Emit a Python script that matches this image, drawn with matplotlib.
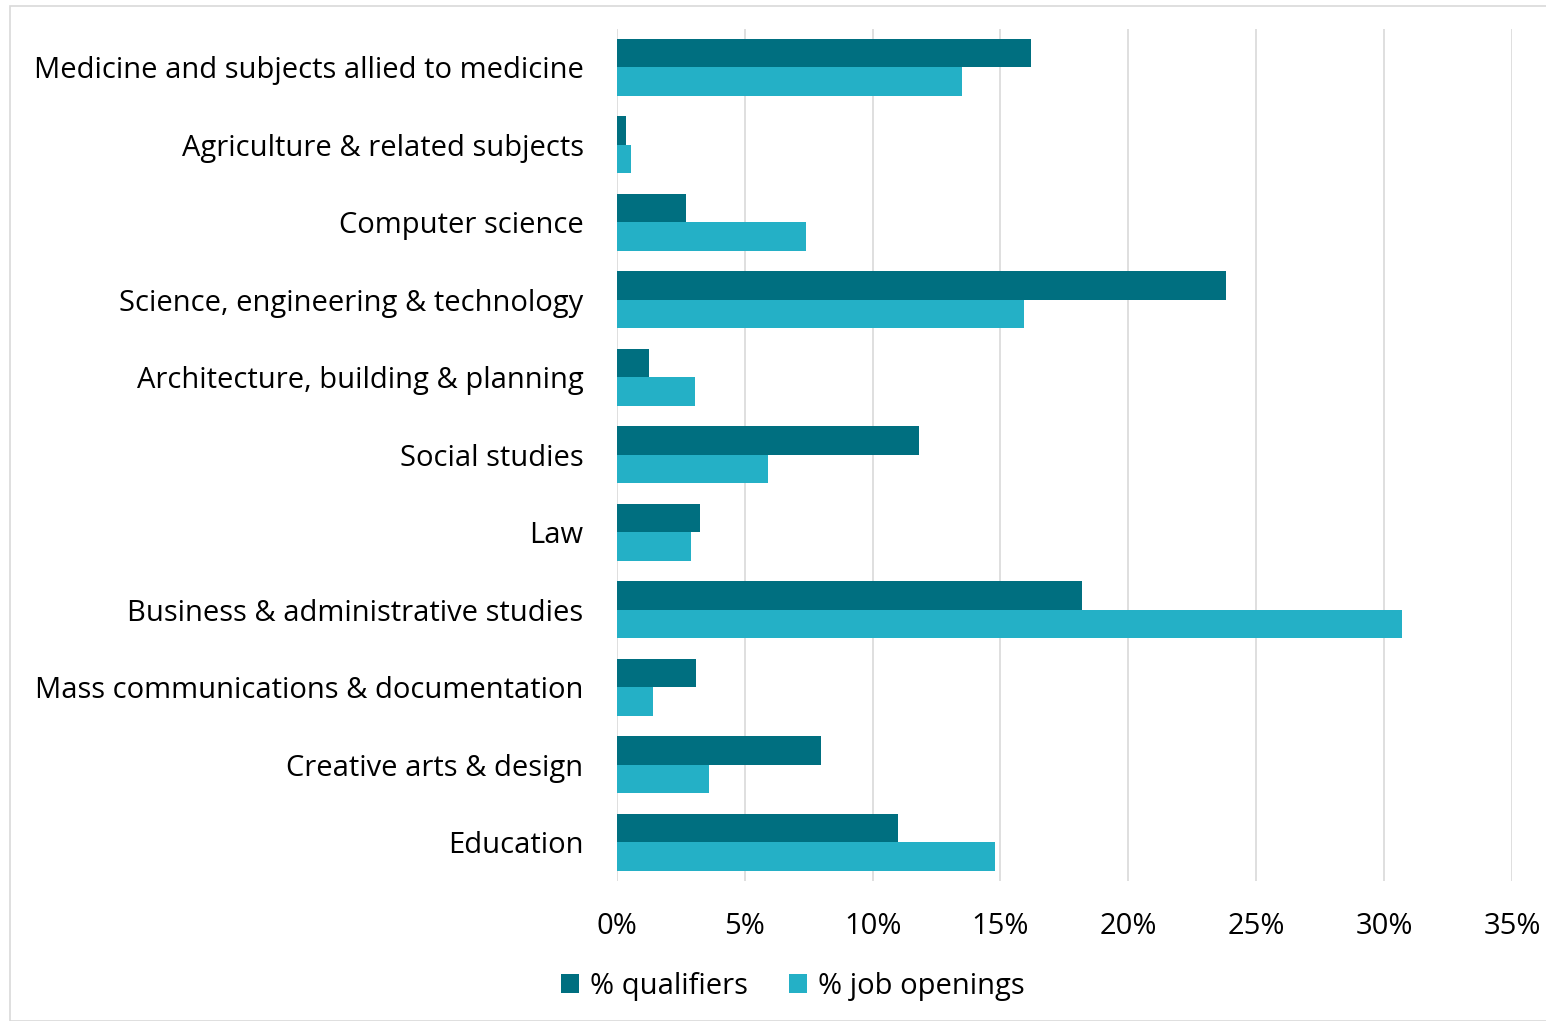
import numpy as np
import matplotlib.pyplot as plt
from matplotlib.patches import Rectangle
from matplotlib.ticker import FuncFormatter

categories = [
    "Medicine and subjects allied to medicine",
    "Agriculture & related subjects",
    "Computer science",
    "Science, engineering & technology",
    "Architecture, building & planning",
    "Social studies",
    "Law",
    "Business & administrative studies",
    "Mass communications & documentation",
    "Creative arts & design",
    "Education",
]
qualifiers = [16.2, 0.35, 2.7, 23.8, 1.25, 11.8, 3.25, 18.2, 3.1, 8.0, 11.0]
job_openings = [13.5, 0.55, 7.4, 15.9, 3.05, 5.9, 2.9, 30.7, 1.4, 3.6, 14.8]
xticks = [0, 5, 10, 15, 20, 25, 30, 35]

dark = "#006F80"
light = "#24B0C6"

plt.rcParams["font.family"] = ["Open Sans", "DejaVu Sans"]

fig = plt.figure(figsize=(15.46, 10.21), dpi=100)
ax = fig.add_axes([0.399, 0.137, 0.579, 0.835])

y = np.arange(len(categories))
h = 0.367
ax.barh(y - h / 2, qualifiers, height=h, color=dark, label="% qualifiers", zorder=3)
ax.barh(y + h / 2, job_openings, height=h, color=light, label="% job openings", zorder=3)

ax.set_yticks(y)
ax.set_yticklabels(categories, fontsize=21)
ax.set_ylim(len(categories) - 0.5, -0.5)
ax.set_xlim(0, 35)
ax.set_xticks(xticks)
ax.xaxis.set_major_formatter(FuncFormatter(lambda v, p: f"{v:.0f}%"))
ax.tick_params(axis="x", labelsize=21, length=0, pad=22)
ax.tick_params(axis="y", length=0, pad=24)
ax.grid(axis="x", color="#d9d9d9", linewidth=1.2, zorder=0)
for s in ax.spines.values():
    s.set_visible(False)

ax.legend(loc="center", bbox_to_anchor=(0.513, 0.034), bbox_transform=fig.transFigure,
          ncol=2, frameon=False, fontsize=21, handlelength=0.6, handleheight=0.6,
          handletextpad=0.4, columnspacing=1.4)

fig.patches.append(Rectangle((0.0065, 0.0), 0.995, 0.994, transform=fig.transFigure,
                             fill=False, edgecolor="#d9d9d9", linewidth=1.2))

plt.savefig("out.png")
